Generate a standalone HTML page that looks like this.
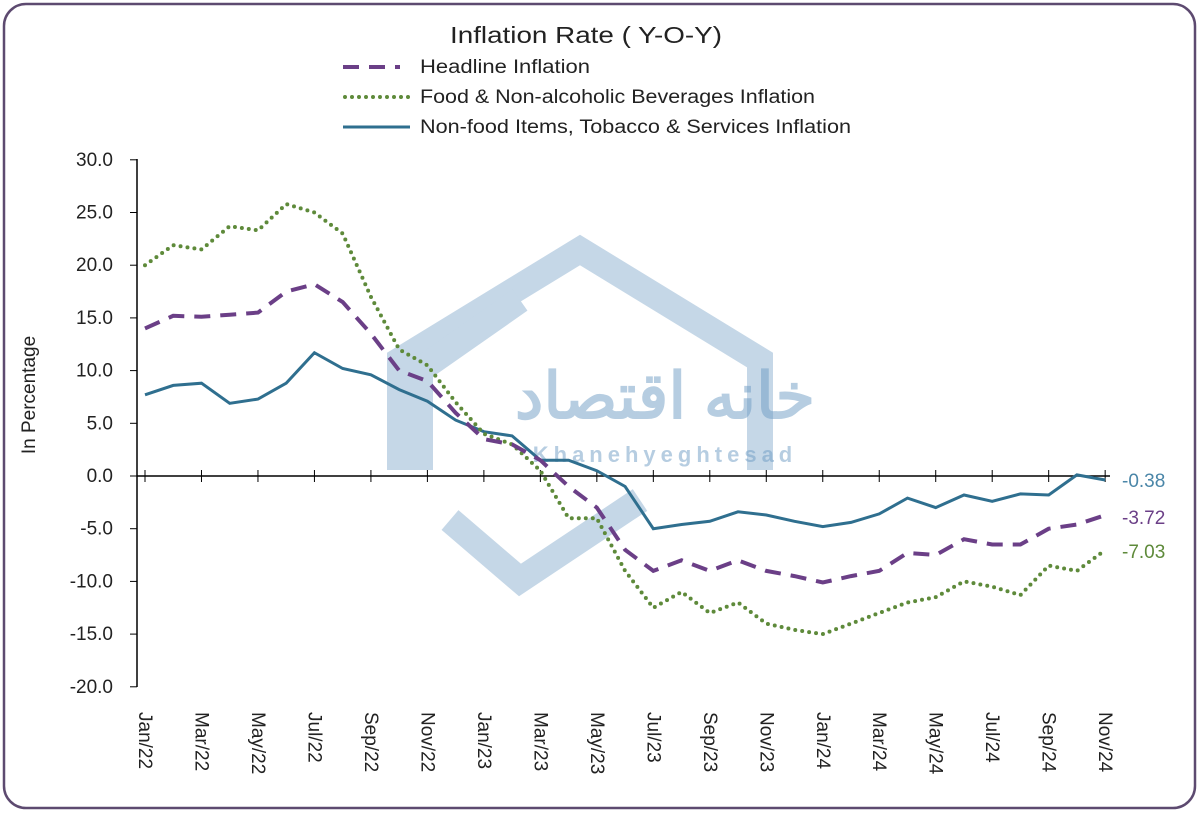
<!DOCTYPE html>
<html><head><meta charset="utf-8"><style>
body{margin:0;background:#fff;}
svg text{font-family:"Liberation Sans",sans-serif;}
</style></head><body>
<svg id="s" width="1200" height="816" xmlns="http://www.w3.org/2000/svg">
<rect x="4" y="4" width="1191" height="804" rx="22" fill="#fff" stroke="#5d4a70" stroke-width="2.5"/>
<g opacity="0.4" fill="none" stroke="#6f9cc4" stroke-width="26">
<path d="M400 470 L400 360 L580 250 L760 360 L760 470"/>
<path d="M520 300 L420 370 L420 470"/>
<path d="M450 520 L520 580 L640 500"/>
</g>
<text x="665" y="418" font-size="64" fill="#6f9cc4" opacity="0.5" text-anchor="middle" font-family="Noto Sans CJK SC,sans-serif" font-weight="bold">خانه اقتصاد</text>
<text x="665" y="462" font-size="22" fill="#6f9cc4" opacity="0.5" text-anchor="middle" font-weight="bold" letter-spacing="5">Khanehyeghtesad</text>
<text x="450" y="43" font-size="23" textLength="272" lengthAdjust="spacingAndGlyphs" fill="#222">Inflation Rate ( Y-O-Y)</text>
<line x1="343" y1="67" x2="400" y2="67" stroke="#6b3f87" stroke-width="4" stroke-dasharray="16,10"/>
<line x1="345" y1="97" x2="410" y2="97" stroke="#5e8a3a" stroke-width="4" stroke-dasharray="0,7" stroke-linecap="round"/>
<line x1="343" y1="127" x2="410" y2="127" stroke="#2f6f8f" stroke-width="3"/>
<text x="420" y="73" font-size="19" textLength="170" lengthAdjust="spacingAndGlyphs" fill="#222">Headline Inflation</text>
<text x="420" y="103" font-size="19" textLength="395" lengthAdjust="spacingAndGlyphs" fill="#222">Food &amp; Non-alcoholic Beverages Inflation</text>
<text x="420" y="133" font-size="19" textLength="431" lengthAdjust="spacingAndGlyphs" fill="#222">Non-food Items, Tobacco &amp; Services Inflation</text>
<text transform="translate(35,395) rotate(-90)" font-size="19" text-anchor="middle" fill="#222">In Percentage</text>
<g id="ax"></g>
<g id="ser"></g>
<text x="1122" y="487" font-size="19" fill="#4a86a8">-0.38</text>
<text x="1122" y="524" font-size="19" fill="#6b3f87">-3.72</text>
<text x="1122" y="558" font-size="19" fill="#5e8a3a">-7.03</text>
</svg>
<script>
const X=i=>145+i*28.24, Y=v=>476-v*10.54;
const ax=document.getElementById('ax');let h='';
h+=`<line x1="137" y1="159" x2="137" y2="687" stroke="#000" stroke-width="1.5"/>`;
h+=`<line x1="137" y1="476" x2="1110" y2="476" stroke="#000" stroke-width="1.5"/>`;
for(let v=30;v>=-20;v-=5){const y=Y(v);h+=`<line x1="130" y1="${y}" x2="137" y2="${y}" stroke="#000"/>`;h+=`<text x="113" y="${y+6}" font-size="19" text-anchor="end" fill="#222">${v.toFixed(1)}</text>`;}
const m=["Jan","Mar","May","Jul","Sep","Nov"];
for(let k=0;k<18;k++){const i=k*2;const yr=22+Math.floor(i/12);const lab=m[k%6]+"/"+yr;const x=X(i);
h+=`<line x1="${x}" y1="470" x2="${x}" y2="482" stroke="#000"/>`;
h+=`<text transform="translate(${x-6},712) rotate(90)" font-size="19" fill="#222">${lab}</text>`;}
ax.innerHTML=h;
const hd=[14,15.2,15.1,15.3,15.5,17.5,18.2,16.5,13.5,10,9,6,3.5,3,1.5,-1,-3,-7,-9,-8,-9,-8,-9,-9.5,-10.1,-9.5,-9,-7.3,-7.5,-6,-6.5,-6.5,-5,-4.6,-3.72];
const fd=[20,21.9,21.5,23.7,23.3,25.8,25,23,17,12,10.5,7,4,3,0.5,-4,-4,-9,-12.5,-11,-13,-12,-14,-14.6,-15,-14,-13,-12,-11.5,-10,-10.5,-11.3,-8.5,-9,-7.03];
const nf=[7.7,8.6,8.8,6.9,7.3,8.8,11.7,10.2,9.6,8.2,7.1,5.3,4.2,3.8,1.5,1.5,0.5,-1,-5,-4.6,-4.3,-3.4,-3.7,-4.3,-4.8,-4.4,-3.6,-2.1,-3,-1.8,-2.4,-1.7,-1.8,0.1,-0.38];
const p=a=>a.map((v,i)=>(i?'L':'M')+X(i).toFixed(1)+' '+Y(v).toFixed(1)).join(' ');
document.getElementById('ser').innerHTML=
`<path d="${p(nf)}" fill="none" stroke="#2f6f8f" stroke-width="3"/>`+
`<path d="${p(fd)}" fill="none" stroke="#5e8a3a" stroke-width="4" stroke-dasharray="0,7" stroke-linecap="round"/>`+
`<path d="${p(hd)}" fill="none" stroke="#6b3f87" stroke-width="4" stroke-dasharray="16,10"/>`;
</script>
</body></html>
